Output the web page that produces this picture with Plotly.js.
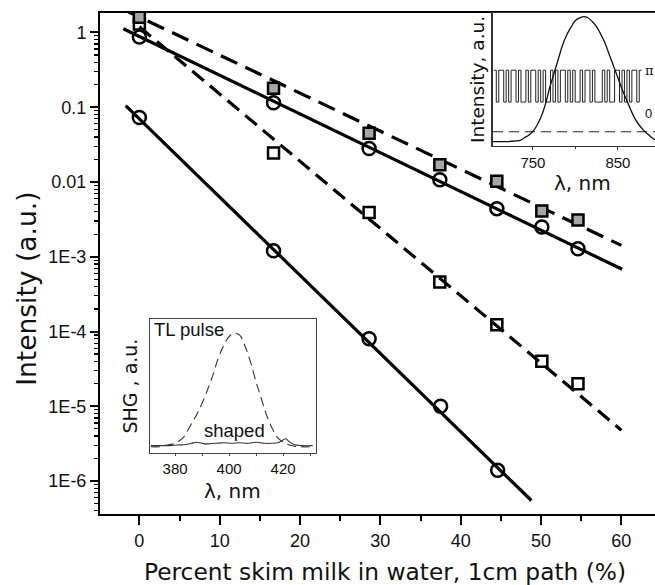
<!DOCTYPE html>
<html>
<head>
<meta charset="utf-8">
<script src="https://cdn.plot.ly/plotly-3.0.1.min.js"></script>
<style>
html,body{margin:0;padding:0;overflow:hidden;background:#fff;}
#chart{width:700px;height:585px;}
</style>
</head>
<body>
<div id="chart"></div>
<script>
// ---------- main data: SHG intensity vs percent skim milk ----------
const milkPct      = [0, 16.7, 28.6, 37.4, 44.5, 50.1, 54.6];
const milkPctLow   = [0, 16.7, 28.6, 37.5, 44.6];
const graySquares  = [1.6, 0.18, 0.045, 0.017, 0.0102, 0.0041, 0.0031];
const upperCircles = [0.87, 0.115, 0.028, 0.0107, 0.0044, 0.0025, 0.00128];
const openSquares  = [1.3, 0.0245, 0.0039, 4.6e-4, 1.23e-4, 4.0e-5, 2.0e-5];
const lowerCircles = [0.073, 1.2e-3, 8.0e-5, 1.0e-5, 1.4e-6];

// fit lines (end points)
const fitGrayX = [-2, 60],     fitGrayY = [2.03, 1.42e-3];
const fitUpX   = [-2, 60.1],   fitUpY   = [1.12, 6.8e-4];
const fitSqX   = [0, 60],      fitSqY   = [1.19, 4.8e-6];
const fitLowX  = [-1.7, 48.8], fitLowY  = [0.105, 5.5e-7];

const yTickVals = [1, 0.1, 0.01, 1e-3, 1e-4, 1e-5, 1e-6];
const yTickText = ['1', '0.1', '0.01', '1E-3', '1E-4', '1E-5', '1E-6'];
const xTickVals = [0, 10, 20, 30, 40, 50, 60];

// ---------- inset 1: laser spectrum + binary phase mask ----------
const specNm = [703,710,720,730,735,740,745,750,755,760,765,770,775,780,785,790,795,800,805,810,815,820,825,830,835,840,845,850,855,860,865,870,875,880,885,890,895,905,913];
const specInt = [0.02,0.02,0.02,0.025,0.03,0.05,0.07,0.10,0.15,0.22,0.32,0.45,0.56,0.67,0.78,0.86,0.92,0.97,0.99,1.0,0.99,0.96,0.92,0.86,0.79,0.70,0.61,0.52,0.43,0.35,0.27,0.20,0.15,0.11,0.08,0.05,0.03,0.02,0.01];
const maskStartNm = 704, maskStepNm = 2.9;
const maskBits = [1,0,1,1,0,1,0,1,1,0,1,0,0,1,0,1,1,0,1,0,1,0,0,1,0,1,0,1,1,0,1,0,1,0,0,1,0,1,1,0,1,0,0,0,1,0,1,0,0,1,1,0,1,0,1,0,1,1,0,1];
const maskPiLevel = 0.58, maskZeroLevel = 0.33;
const dashLevelNm = [703, 913], dashLevel = [0.097, 0.097];

// ---------- inset 2: SHG spectra ----------
const shgNm = [371,374,376,380,383,386,389,392,394,396,398,400,402,404,406,408,410,412,414,416,418,420,423,426,431];
const tlPulse = [0.0,0.0,0.01,0.03,0.08,0.2,0.33,0.5,0.63,0.78,0.89,0.97,1.0,0.98,0.88,0.74,0.57,0.42,0.27,0.16,0.08,0.04,0.01,0.0,0.0];
const shapedNm = [371,375,378,381,384,386,388,390,392,395,398,401,404,407,410,413,416,418,420,421,422,424,427,431];
const shaped = [0.01,0.01,0.01,0.015,0.02,0.03,0.04,0.03,0.025,0.03,0.035,0.03,0.035,0.03,0.04,0.03,0.03,0.035,0.06,0.07,0.05,0.02,0.01,0.01];

// ---------- build ----------
const maskX = [], maskY = [];
maskBits.forEach((b, i) => { maskX.push(maskStartNm + i * maskStepNm); maskY.push(b ? maskPiLevel : maskZeroLevel); });
maskX.push(maskStartNm + maskBits.length * maskStepNm);
maskY.push(maskBits[maskBits.length - 1] ? maskPiLevel : maskZeroLevel);

const minorLog = [];
for (let k = -7; k <= 0; k++) for (let m = 2; m <= 9; m++) minorLog.push(m * Math.pow(10, k));

const BK = '#000';
const lineStyle = (w, dash) => ({color: BK, width: w, dash: dash || 'solid'});
const openMarker = (sym, size) => ({symbol: sym, size: size, color: 'rgba(0,0,0,0)', line: {color: BK, width: 2.5}});

const traces = [
  {x: fitGrayX, y: fitGrayY, mode: 'lines', line: lineStyle(3.2, '18px,9px'), xaxis: 'x', yaxis: 'y'},
  {x: fitUpX, y: fitUpY, mode: 'lines', line: lineStyle(3.2), xaxis: 'x', yaxis: 'y'},
  {x: fitSqX, y: fitSqY, mode: 'lines', line: lineStyle(3.2, '15px,8px'), xaxis: 'x', yaxis: 'y'},
  {x: fitLowX, y: fitLowY, mode: 'lines', line: lineStyle(3.2), xaxis: 'x', yaxis: 'y'},
  {x: milkPct, y: openSquares, mode: 'markers', marker: openMarker('square', 11), xaxis: 'x', yaxis: 'y'},
  {x: milkPct, y: upperCircles, mode: 'markers', marker: openMarker('circle', 13), xaxis: 'x', yaxis: 'y'},
  {x: milkPct, y: graySquares, mode: 'markers', marker: {symbol: 'square', size: 11, color: '#a6a6a6', line: {color: BK, width: 2.5}}, xaxis: 'x', yaxis: 'y'},
  {x: milkPctLow, y: lowerCircles, mode: 'markers', marker: openMarker('circle', 13), xaxis: 'x', yaxis: 'y'},
  {x: maskX, y: maskY, mode: 'lines', line: {color: '#222', width: 1, shape: 'hv'}, xaxis: 'x2', yaxis: 'y2'},
  {x: dashLevelNm, y: dashLevel, mode: 'lines', line: {color: '#222', width: 1.2, dash: '10px,6px'}, xaxis: 'x2', yaxis: 'y2'},
  {x: specNm, y: specInt, mode: 'lines', line: {color: '#111', width: 1.3, shape: 'spline'}, xaxis: 'x2', yaxis: 'y2'},
  {x: shgNm, y: tlPulse, mode: 'lines', line: {color: '#333', width: 1.1, dash: '9px,5px', shape: 'spline'}, xaxis: 'x3', yaxis: 'y3'},
  {x: shapedNm, y: shaped, mode: 'lines', line: {color: '#333', width: 1.1, shape: 'spline'}, xaxis: 'x3', yaxis: 'y3'}
];
traces.forEach(t => { t.showlegend = false; t.hoverinfo = 'skip'; });

const tickFont = {family: 'Liberation Sans, Arial, sans-serif', size: 18, color: '#111'};
const dv = (s) => ({family: 'DejaVu Sans, sans-serif', size: s, color: '#111'});
const lib = (s) => ({family: 'Liberation Sans, Arial, sans-serif', size: s, color: '#111'});

const layout = {
  width: 700, height: 585,
  margin: {l: 100, r: 20, t: 13, b: 71},
  paper_bgcolor: '#fff', plot_bgcolor: 'rgba(0,0,0,0)',
  showlegend: false,
  xaxis: {
    domain: [0, 1], range: [-4.9, 67.3], showgrid: false, zeroline: false,
    showline: true, linecolor: BK, linewidth: 2, mirror: true,
    ticks: 'outside', ticklen: 9, tickwidth: 2, tickcolor: BK,
    tickvals: xTickVals, tickfont: tickFont,
    minor: {ticks: 'outside', ticklen: 5, tickwidth: 2, tickcolor: BK, dtick: 5, tick0: 0}
  },
  yaxis: {
    domain: [0, 1], type: 'log', range: [-6.44, 0.26], showgrid: false, zeroline: false,
    showline: true, linecolor: BK, linewidth: 2, mirror: true,
    ticks: 'outside', ticklen: 8, tickwidth: 2, tickcolor: BK,
    tickvals: yTickVals, ticktext: yTickText, tickfont: tickFont,
    minor: {ticks: 'outside', ticklen: 4, tickwidth: 1.2, tickcolor: BK, tickvals: minorLog}
  },
  xaxis2: {
    domain: [0.677, 0.986], anchor: 'y2', range: [702.6, 913.5], showgrid: false, zeroline: false,
    showline: true, linecolor: '#333', linewidth: 1.2, mirror: true,
    ticks: 'outside', ticklen: 3, tickwidth: 1, tickcolor: '#333',
    tickvals: [750, 850], tickfont: lib(15),
    minor: {ticks: 'outside', ticklen: 2, tickwidth: 1, tickcolor: '#333', dtick: 50, tick0: 700}
  },
  yaxis2: {
    domain: [0.735, 1], anchor: 'x2', range: [-0.013, 1.029], showgrid: false, zeroline: false,
    showline: true, linecolor: '#333', linewidth: 1.2, mirror: true,
    ticks: '', showticklabels: false,
    title: {text: 'Intensity, a.u.', font: dv(18.5), standoff: 2}
  },
  xaxis3: {
    domain: [0.0862, 0.3724], anchor: 'y3', range: [370.7, 432.2], showgrid: false, zeroline: false,
    showline: true, linecolor: '#444', linewidth: 1.2, mirror: true,
    ticks: 'outside', ticklen: 2, tickwidth: 1, tickcolor: '#444',
    tickvals: [380, 400, 420], tickfont: lib(15),
    minor: {ticks: 'outside', ticklen: 2, tickwidth: 1, tickcolor: '#444', dtick: 10, tick0: 370}
  },
  yaxis3: {
    domain: [0.1218, 0.389], anchor: 'x3', range: [-0.055, 1.123], showgrid: false, zeroline: false,
    showline: true, linecolor: '#444', linewidth: 1.2, mirror: true,
    ticks: '', showticklabels: false,
    title: {text: 'SHG , a.u.', font: dv(19), standoff: 6}
  },
  annotations: [
    // main axis titles
    {xref: 'paper', yref: 'paper', x: -0.128, y: 0.449, text: 'Intensity (a.u.)', textangle: -90, showarrow: false,
     xanchor: 'center', yanchor: 'middle', font: dv(26.5)},
    {xref: 'paper', yref: 'paper', x: 0.492, y: -0.115, text: 'Percent skim milk in water, 1cm path (%)', showarrow: false,
     xanchor: 'center', yanchor: 'middle', font: dv(23.3)},
    // inset x titles
    {xref: 'x2 domain', yref: 'paper', x: 0.5, y: 0.661, text: 'λ, nm', showarrow: false,
     xanchor: 'center', yanchor: 'middle', font: dv(20)},
    {xref: 'x3 domain', yref: 'paper', x: 0.5, y: 0.045, text: 'λ, nm', showarrow: false,
     xanchor: 'center', yanchor: 'middle', font: dv(20)},
    // inset labels
    {xref: 'x3', yref: 'y3', x: 371.6, y: 1.03, text: 'TL pulse', showarrow: false, xanchor: 'left', yanchor: 'middle', font: lib(18.5)},
    {xref: 'x3', yref: 'y3', x: 402, y: 0.14, text: 'shaped', showarrow: false, xanchor: 'center', yanchor: 'middle', font: lib(18.5)},
    {xref: 'x2', yref: 'y2', x: 879.5, y: 0.58, text: 'π', showarrow: false, xanchor: 'left', yanchor: 'middle',
     font: {family: 'DejaVu Serif, serif', size: 13, color: '#111'}},
    {xref: 'x2', yref: 'y2', x: 880, y: 0.24, text: '0', showarrow: false, xanchor: 'left', yanchor: 'middle', font: lib(13)}
  ]
};

Plotly.newPlot('chart', traces, layout, {staticPlot: true, displayModeBar: false});
</script>
</body>
</html>
